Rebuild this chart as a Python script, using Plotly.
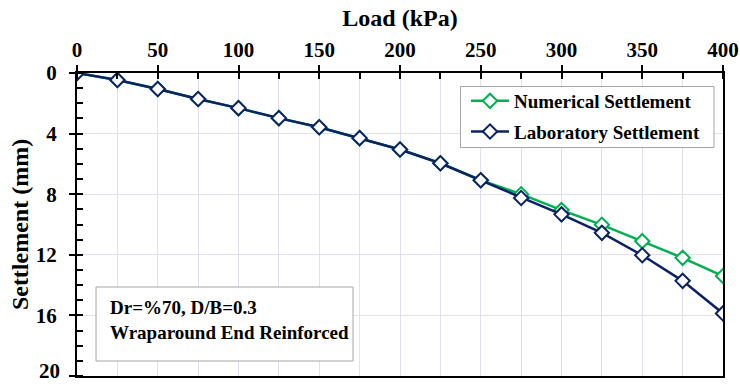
import plotly.graph_objects as go

load = [0, 25, 50, 75, 100, 125, 150, 175, 200, 225, 250, 275, 300, 325, 350, 375, 400]
numerical = [0, 0.46, 1.06, 1.72, 2.32, 2.98, 3.58, 4.3, 5.05, 5.96, 7.08, 8.0, 9.05, 10.02, 11.1, 12.2, 13.4]
laboratory = [0, 0.46, 1.06, 1.72, 2.32, 2.98, 3.58, 4.3, 5.05, 5.96, 7.08, 8.25, 9.33, 10.55, 12.03, 13.72, 15.87]
x_ticks = [0, 50, 100, 150, 200, 250, 300, 350, 400]
y_ticks = [0, 4, 8, 12, 16, 20]

GREEN = "#00B050"
NAVY = "#0B2265"
FONT = "Liberation Serif"

fig = go.Figure()
fig.add_trace(go.Scatter(
    x=load, y=numerical, name="<b>Numerical Settlement</b>", mode="lines+markers",
    line=dict(color=GREEN, width=2.5),
    marker=dict(symbol="diamond", size=11, color="white", line=dict(color=GREEN, width=2)),
    legendgroup="a"))
fig.add_trace(go.Scatter(
    x=load, y=laboratory, name="<b>Laboratory Settlement</b>", mode="lines+markers",
    line=dict(color=NAVY, width=2.5),
    marker=dict(symbol="diamond", size=11, color="white", line=dict(color=NAVY, width=2)),
    legendgroup="b"))

grid = "#E3E0EE"
L, R, T, B = 77, 17, 73, 8
PW, PH = 740 - L - R, 384 - T - B


def px_x(p):
    return (p - L) / PW


def px_y(p):
    return (384 - B - p) / PH


# last y label is drawn as an annotation so it stays inside the page
y_text = [f"<b>{v}</b>" for v in y_ticks[:-1]] + [""]

fig.update_layout(
    width=740, height=384,
    margin=dict(l=L, r=R, t=T, b=B, autoexpand=False),
    paper_bgcolor="white", plot_bgcolor="white",
    font=dict(family=FONT, size=21, color="black"),
    showlegend=True,
    legend=dict(x=px_x(466), y=px_y(82), xanchor="left", yanchor="top",
                bgcolor="rgba(0,0,0,0)", borderwidth=0,
                font=dict(family=FONT, size=19, color="black"),
                itemwidth=38,
                traceorder="grouped", tracegroupgap=3),
    xaxis=dict(
        side="top", range=[0, 400], tickmode="array", tickvals=x_ticks,
        ticktext=[f"<b>{v}</b>" for v in x_ticks],
        showline=True, linecolor="black", linewidth=2, mirror=True,
        ticks="outside", ticklen=6, tickwidth=1.5, tickcolor="black",
        showgrid=True, gridcolor=grid, gridwidth=1,
        minor=dict(dtick=25, tick0=0, showgrid=True, gridcolor=grid, ticks="inside", ticklen=6, tickcolor="black", tickwidth=1.5),
        tickfont=dict(family=FONT, size=21, color="black"),
        title=dict(text="<b>Load (kPa)</b>", font=dict(family=FONT, size=24, color="black"), standoff=4),
        zeroline=False, automargin=False,
    ),
    yaxis=dict(
        range=[20, 0], tickmode="array", tickvals=y_ticks,
        ticktext=y_text,
        showline=True, linecolor="black", linewidth=2, mirror=True,
        ticks="outside", ticklen=6, tickwidth=1.5, tickcolor="black",
        showgrid=True, gridcolor=grid, gridwidth=1,
        minor=dict(dtick=1, tick0=0, showgrid=False, ticks="inside", ticklen=6, tickcolor="black", tickwidth=1.5),
        tickfont=dict(family=FONT, size=21, color="black"),
        ticklabelstandoff=8,
        title=dict(text="<b>Settlement (mm)</b>", font=dict(family=FONT, size=24, color="black"), standoff=0),
        zeroline=False, automargin=False,
    ),
)

fig.add_annotation(xref="paper", yref="paper",
                   x=px_x(61), y=px_y(383.5), xanchor="right", yanchor="bottom",
                   showarrow=False, borderpad=0,
                   text=f"<b>{y_ticks[-1]}</b>",
                   font=dict(family=FONT, size=21, color="black"))

# legend frame
fig.add_shape(type="rect", xref="paper", yref="paper",
              x0=px_x(460.5), x1=px_x(714), y0=px_y(147.5), y1=px_y(86.5),
              line=dict(color="#A6A6A6", width=1), fillcolor="white", layer="above")
# info box
fig.add_shape(type="rect", xref="paper", yref="paper",
              x0=px_x(96), x1=px_x(353), y0=px_y(361), y1=px_y(287),
              line=dict(color="#A6A6A6", width=1), fillcolor="white", layer="above")
fig.add_annotation(xref="paper", yref="paper",
                   x=px_x(108), y=px_y(320),
                   xanchor="left", yanchor="middle", align="left", showarrow=False,
                   text="<b>Dr=%70, D/B=0.3</b><br><b>Wraparound End Reinforced</b>",
                   font=dict(family=FONT, size=19, color="black"))

fig.write_html("out.html")
